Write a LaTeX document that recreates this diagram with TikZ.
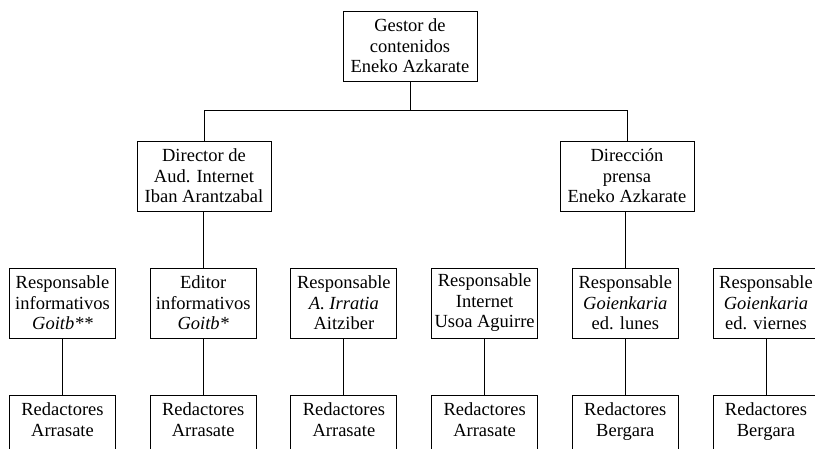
\documentclass[tikz,border=0pt]{standalone}
\usepackage{fontspec}
\setmainfont{Liberation Serif}
\begin{document}
\begin{tikzpicture}[x=1pt,y=-1pt,
  box/.style={draw, line width=0.9pt, align=center, inner sep=0pt,
    font=\fontsize{18.5}{20.5}\selectfont, minimum height=70pt},
  wide/.style={box, minimum width=134pt},
  narrow/.style={box, minimum width=106pt},
  link/.style={line width=0.9pt}]
\useasboundingbox (0,0) rectangle (815,448);
\clip (0,0) rectangle (815,448);
% top
\node[wide] (top) at (410,46) {Gestor de\\contenidos\\Eneko Azkarate};
% level 2
\node[wide] (dir) at (204,176) {Director de\\Aud. Internet\\Iban Arantzabal};
\node[wide] (dp) at (627,176) {Dirección\\prensa\\Eneko Azkarate};
% level 3
\node[narrow] (r1) at (62.5,303) {Responsable\\informativos\\\textit{Goitb**}};
\node[narrow] (r2) at (203.2,303) {Editor\\informativos\\\textit{Goitb*}};
\node[narrow] (r3) at (343.9,303) {Responsable\\\textit{A. Irratia}\\Aitziber};
\node[narrow] (r4) at (484.6,303) {Responsable\\Internet\\Usoa Aguirre};
\node[narrow] (r5) at (625.3,303) {Responsable\\\textit{Goienkaria}\\ed. lunes};
\node[narrow] (r6) at (766,303) {Responsable\\\textit{Goienkaria}\\ed. viernes};
% level 4
\node[narrow] (b1) at (62.5,430) {Redactores\\Arrasate\\\mbox{}};
\node[narrow] (b2) at (203.2,430) {Redactores\\Arrasate\\\mbox{}};
\node[narrow] (b3) at (343.9,430) {Redactores\\Arrasate\\\mbox{}};
\node[narrow] (b4) at (484.6,430) {Redactores\\Arrasate\\\mbox{}};
\node[narrow] (b5) at (625.3,430) {Redactores\\Bergara\\\mbox{}};
\node[narrow] (b6) at (766,430) {Redactores\\Bergara\\\mbox{}};
% connectors
\coordinate (bus) at (410,110);
\draw[link] (top.south) -- (bus);
\draw[link] (bus) -| (dir.north);
\draw[link] (bus) -| (dp.north);
\draw[link] (r2.north) -- (r2.north |- dir.south);
\draw[link] (r5.north) -- (r5.north |- dp.south);
\foreach \i in {1,...,6} {\draw[link] (r\i.south) -- (b\i.north);}
\end{tikzpicture}
\end{document}
